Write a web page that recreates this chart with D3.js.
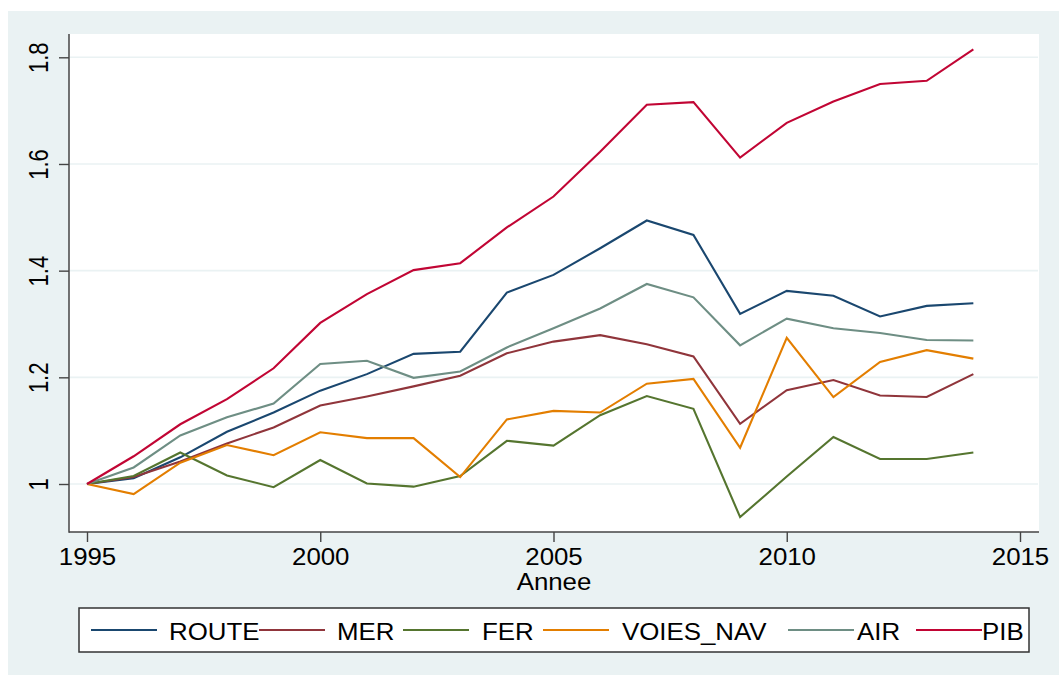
<!DOCTYPE html>
<html>
<head>
<meta charset="utf-8">
<script src="https://cdn.jsdelivr.net/npm/d3@7/dist/d3.min.js"></script>
<style>
  html, body { margin: 0; padding: 0; background: #ffffff; }
  svg { display: block; }
  text { font-family: "Liberation Sans", Arial, Helvetica, sans-serif; fill: #000; }
</style>
</head>
<body>
<svg id="chart" width="1059" height="675"></svg>
<script>
// ---- Data ----
const years = [1995,1996,1997,1998,1999,2000,2001,2002,2003,2004,2005,2006,2007,2008,2009,2010,2011,2012,2013,2014];
const route     = [1.000,1.011,1.050,1.098,1.134,1.175,1.206,1.244,1.248,1.359,1.392,1.442,1.494,1.467,1.319,1.362,1.353,1.314,1.334,1.339];
const mer       = [1.000,1.013,1.042,1.076,1.106,1.147,1.164,1.183,1.203,1.245,1.267,1.279,1.262,1.239,1.113,1.176,1.195,1.166,1.163,1.206];
const fer       = [1.000,1.015,1.059,1.016,0.994,1.045,1.001,0.995,1.015,1.081,1.072,1.129,1.165,1.141,0.938,1.014,1.088,1.047,1.047,1.059];
const voiesNav  = [1.000,0.981,1.040,1.073,1.054,1.097,1.086,1.086,1.013,1.121,1.137,1.134,1.188,1.197,1.068,1.274,1.163,1.229,1.251,1.235];
const air       = [1.000,1.031,1.091,1.125,1.151,1.225,1.231,1.199,1.211,1.256,1.292,1.329,1.375,1.350,1.260,1.310,1.292,1.283,1.270,1.269];
const pib       = [1.000,1.052,1.112,1.159,1.217,1.302,1.356,1.401,1.414,1.481,1.539,1.623,1.711,1.716,1.612,1.677,1.717,1.750,1.756,1.815];

const seriesNames  = ["ROUTE","MER","FER","VOIES_NAV","AIR","PIB"];
const seriesValues = [route, mer, fer, voiesNav, air, pib];
const seriesColors = ["#1a476f","#90353b","#55752f","#e37e00","#6e8e84","#c10534"];

const xTicks = [1995,2000,2005,2010,2015];
const yTicks = [1,1.2,1.4,1.6,1.8];
const xTitle = "Annee";

// ---- Layout ----
const W = 1059, H = 675;
const bg = "#eaf2f3";
const plot = {left: 69, right: 1039, top: 34, bottom: 532};
const legendBox = {x: 79, y: 608, w: 950, h: 44};
const legendLineX = [91, 259, 403, 543, 788, 916];
const legendLineLen = 66;
const legendTextX = [169, 337, 482, 622, 857, 982];
const hStretch = 1.1;

const svg = d3.select("#chart");

svg.append("rect").attr("x",0).attr("y",0).attr("width",W).attr("height",H).attr("fill","#ffffff");
svg.append("rect").attr("x",8).attr("y",11).attr("width",W-8).attr("height",H-11).attr("fill",bg);
svg.append("rect").attr("x",plot.left).attr("y",plot.top)
   .attr("width",plot.right-plot.left).attr("height",plot.bottom-plot.top).attr("fill","#ffffff");

const x = d3.scaleLinear().domain([1995,2015]).range([87,1020]);
const y = d3.scaleLinear().domain([1,1.8]).range([484,57.3]);

// gridlines
svg.append("g").selectAll("line").data(yTicks).join("line")
  .attr("x1",plot.left+1).attr("x2",plot.right-1)
  .attr("y1",d=>y(d)).attr("y2",d=>y(d))
  .attr("stroke",bg).attr("stroke-width",1.6);

// lines
const line = d3.line().x((d,i)=>x(years[i])).y(d=>y(d));
svg.append("g").selectAll("path").data(seriesValues).join("path")
  .attr("d", d=>line(d))
  .attr("fill","none")
  .attr("stroke",(d,i)=>seriesColors[i])
  .attr("stroke-width",2.1)
  .attr("stroke-linejoin","miter");

// Y axis
const yAxis = d3.axisLeft(y).tickValues(yTicks).tickSize(10).tickFormat(d3.format("~g"));
const gy = svg.append("g").attr("transform",`translate(${plot.left},0)`).call(yAxis);
gy.select(".domain").remove();
gy.selectAll(".tick line").attr("stroke","#444").attr("stroke-width",1.4);
gy.selectAll(".tick text")
  .attr("x",null).attr("dy",null)
  .attr("font-size",22)
  .attr("text-anchor","middle")
  .attr("transform",`translate(-21,0) scale(1.25,1) rotate(-90)`)
  .attr("fill","#000");
svg.append("line").attr("x1",plot.left).attr("x2",plot.left)
  .attr("y1",plot.top).attr("y2",plot.bottom+0.7)
  .attr("stroke","#444").attr("stroke-width",1.5);

// X axis
const xAxis = d3.axisBottom(x).tickValues(xTicks).tickSize(10).tickFormat(d3.format("d"));
const gx = svg.append("g").attr("transform",`translate(0,${plot.bottom})`).call(xAxis);
gx.select(".domain").remove();
gx.selectAll(".tick line").attr("stroke","#444").attr("stroke-width",1.4);
gx.selectAll(".tick text")
  .attr("y",null).attr("dy",null)
  .attr("font-size",23.5)
  .attr("text-anchor","middle")
  .attr("transform",`translate(0,33) scale(${hStretch},1)`)
  .attr("fill","#000");
svg.append("line").attr("x1",plot.left).attr("x2",plot.right)
  .attr("y1",plot.bottom).attr("y2",plot.bottom)
  .attr("stroke","#444").attr("stroke-width",1.5);

// X title
svg.append("text")
  .attr("transform",`translate(${(plot.left+plot.right)/2},590) scale(${hStretch},1)`)
  .attr("text-anchor","middle").attr("font-size",23.5).text(xTitle);

// Legend
svg.append("rect").attr("x",legendBox.x).attr("y",legendBox.y)
  .attr("width",legendBox.w).attr("height",legendBox.h)
  .attr("fill","#ffffff").attr("stroke","#333").attr("stroke-width",1.5);
const lg = svg.append("g");
seriesNames.forEach((name,i)=>{
  lg.append("line")
    .attr("x1",legendLineX[i]).attr("x2",legendLineX[i]+legendLineLen)
    .attr("y1",630).attr("y2",630)
    .attr("stroke",seriesColors[i]).attr("stroke-width",2);
  lg.append("text")
    .attr("transform",`translate(${legendTextX[i]},639.5) scale(${hStretch},1)`)
    .attr("font-size",23.5).text(name);
});
</script>
</body>
</html>
